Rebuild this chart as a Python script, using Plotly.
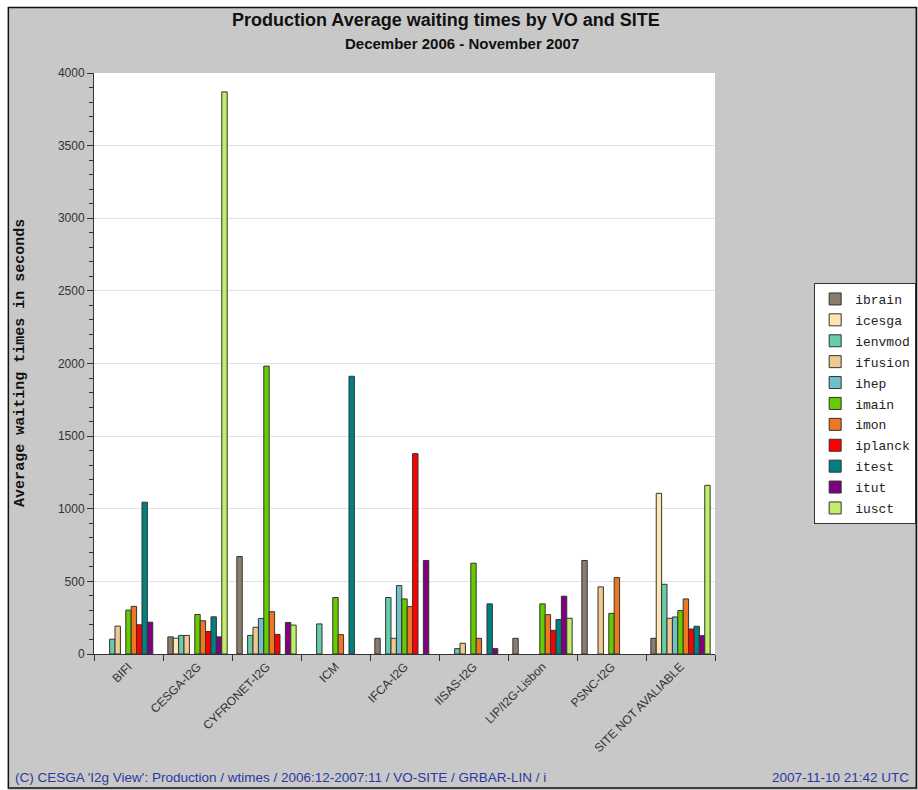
import plotly.graph_objects as go

sites = ["BIFI", "CESGA-I2G", "CYFRONET-I2G", "ICM", "IFCA-I2G", "IISAS-I2G",
         "LIP/I2G-Lisbon", "PSNC-I2G", "SITE NOT AVALIABLE"]

# values per VO, in the order of the sites above (None = no bar)
ibrain  = [None, 118, 671, None, 108, None, 108, 644, 108]
icesga  = [None, 109, None, None, None, None, None, None, 1106]
ienvmod = [102, 128, 128, 207, 389, 37, None, None, 480]
ifusion = [192, 128, 184, None, 108, 74, None, 462, 246]
ihep    = [None, None, 245, None, 471, None, None, None, 255]
imain   = [302, 272, 1982, 389, 379, 625, 345, 280, 299]
imon    = [328, 229, 291, 133, 326, 108, 271, 526, 379]
iplanck = [201, 155, 135, None, 1379, None, 163, None, 172]
itest   = [1045, 256, None, 1912, None, 345, 237, None, 191]
itut    = [219, 118, 217, None, 644, 37, 398, None, 126]
iusct   = [None, 3870, 199, None, None, None, 246, None, 1161]

vos = ["ibrain", "icesga", "ienvmod", "ifusion", "ihep", "imain", "imon",
       "iplanck", "itest", "itut", "iusct"]
series = [ibrain, icesga, ienvmod, ifusion, ihep, imain, imon, iplanck, itest, itut, iusct]
colors = ["#8b7d6b", "#ffe4b5", "#66cdaa", "#f0c890", "#70c0cc", "#66cc00",
          "#ee7722", "#ff0000", "#008080", "#800080", "#c0ee66"]

fig = go.Figure()
for name, vals, col in zip(vos, series, colors):
    fig.add_trace(go.Bar(x=sites, y=vals, name=name, legendgroup=name,
                         marker=dict(color=col, line=dict(color="#333333", width=1))))

# horizontal compensation for the capture (observed ~0.988 horizontal squeeze)
def sx(x):
    return 94 + (x - 94) / 0.988

W, H = round(sx(918)), 790
PL, PR, PT, PB = sx(94), sx(714), 73, 654
pw, ph = PR - PL, PB - PT

def px(x):
    return (sx(x) - PL) / pw

def py(y):
    return (PB - y) / ph

fig.update_layout(
    width=W, height=H, autosize=False,
    margin=dict(l=PL, r=W - PR, t=PT, b=H - PB, pad=0),
    paper_bgcolor="#c8c8c8", plot_bgcolor="white",
    barmode="group", bargap=0.14, bargroupgap=0,
    font=dict(family="Liberation Sans, Arial, sans-serif", color="#333333"),
    showlegend=True,
    legend=dict(x=px(813), y=py(283), xanchor="left", yanchor="top",
                bgcolor="white", bordercolor="#333333", borderwidth=1,
                tracegroupgap=1, traceorder="grouped",
                font=dict(family="Liberation Mono, monospace", size=13, color="#222222")),
    xaxis=dict(type="category", tickson="boundaries", ticks="outside", ticklen=6,
               tickcolor="#333333", showline=True, linecolor="#333333", linewidth=1,
               showgrid=False, tickangle=-45, tickfont=dict(size=12, color="#333333"),
               range=[-0.5, 8.5]),
    yaxis=dict(range=[0, 4000], dtick=500, ticks="outside", ticklen=6,
               tickcolor="#333333", showline=True, linecolor="#333333", linewidth=1,
               showgrid=True, gridcolor="#e2e2e2", zeroline=False,
               tickfont=dict(size=12, color="#333333"),
               minor=dict(dtick=100, ticks="outside", ticklen=4, tickcolor="#333333",
                          showgrid=False)),
)

annotations = [
    dict(text="<b>Production Average waiting times by VO and SITE</b>",
         x=px(445), y=py(20), font=dict(size=18, color="#111111")),
    dict(text="<b>December 2006 - November 2007</b>",
         x=px(461), y=py(44), font=dict(size=15, color="#111111")),
    dict(text="<b>Average waiting times in seconds</b>", textangle=-90,
         x=px(20), y=py(363), font=dict(family="Liberation Mono, monospace", size=15, color="#111111")),
    dict(text="(C) CESGA 'I2g View': Production / wtimes / 2006:12-2007:11 / VO-SITE / GRBAR-LIN / i",
         x=px(13), y=py(777), xanchor="left", font=dict(size=13.5, color="#2a3aa0")),
    dict(text="2007-11-10 21:42 UTC",
         x=px(910), y=py(777), xanchor="right", font=dict(size=13.5, color="#2a3aa0")),
]
for a in annotations:
    a.setdefault("xanchor", "center")
    a.update(xref="paper", yref="paper", yanchor="middle", showarrow=False)
    fig.add_annotation(**a)

shapes = [
    dict(type="rect", x0=px(-20), x1=px(940), y0=py(7), y1=py(-5),
         fillcolor="white", line=dict(width=0)),
    dict(type="rect", x0=px(-20), x1=px(8), y0=py(800), y1=py(-5),
         fillcolor="white", line=dict(width=0)),
    dict(type="rect", x0=px(8.5), x1=px(915), y0=py(788), y1=py(7.5),
         line=dict(color="#111111", width=1.5)),
]
for s in shapes:
    s.update(xref="paper", yref="paper", layer="above")
    fig.add_shape(**s)

fig.write_html("out.html", config={"displayModeBar": False},
               post_script="document.body.style.margin='0';document.body.style.overflow='hidden';")
